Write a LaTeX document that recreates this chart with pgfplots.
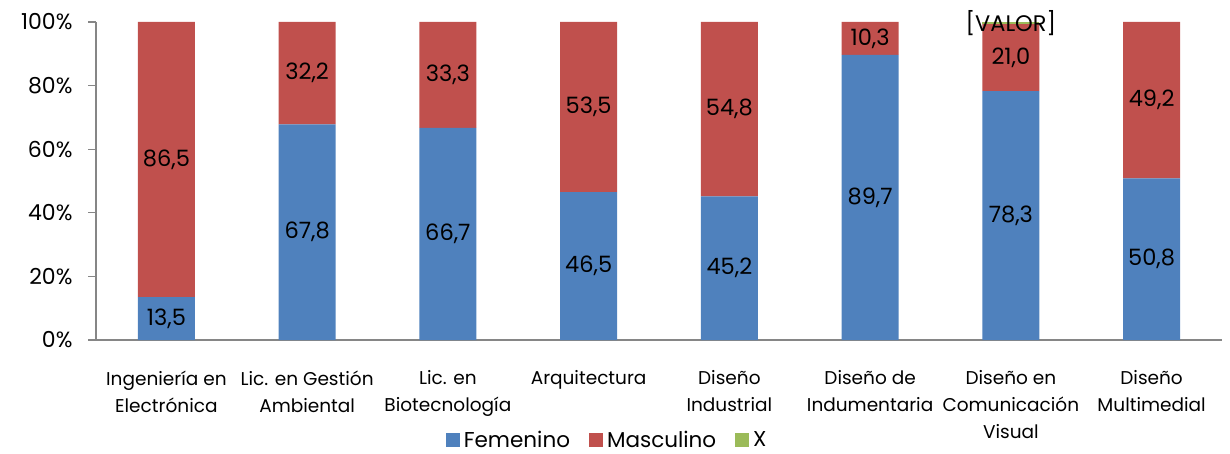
\documentclass[border=0pt]{standalone}
\usepackage{pgfplots}
\pgfplotsset{compat=1.18}
\usepackage{pgfplotstable}
\usepackage{fontspec}
\setmainfont{Poppins}
\definecolor{fem}{HTML}{4F81BD}
\definecolor{masc}{HTML}{C0504D}
\definecolor{xgreen}{HTML}{9BBB59}
\definecolor{axisgray}{HTML}{868686}

% x = category index, y = percent, lab = data label
\pgfplotstableread{
x y lab
0 13.5 13,5
1 67.8 67,8
2 66.7 66,7
3 46.5 46,5
4 45.2 45,2
5 89.7 89,7
6 78.3 78,3
7 50.8 50,8
}\femenino
\pgfplotstableread{
x y lab
0 86.5 86,5
1 32.2 32,2
2 33.3 33,3
3 53.5 53,5
4 54.8 54,8
5 10.3 10,3
6 21.0 21,0
7 49.2 49,2
}\masculino
\pgfplotstableread{
x y lab
0 0 {}
1 0 {}
2 0 {}
3 0 {}
4 0 {}
5 0 {}
6 0.7 [VALOR]
7 0 {}
}\xseries

\begin{document}
\begin{tikzpicture}
\useasboundingbox (0,0) rectangle (1230pt,453pt);
\begin{axis}[
  at={(96pt,113pt)},
  scale only axis,
  width=1126pt, height=318pt,
  ybar stacked, bar width=57pt,
  xmin=-0.5, xmax=7.5, ymin=0, ymax=100,
  axis lines*=left,
  axis line style={axisgray, line width=1.2pt},
  tick style={axisgray, line width=1.2pt},
  tick align=outside,
  major tick length=8pt,
  xtick={0,...,7},
  xticklabels={Ingeniería en\\Electrónica, Lic. en Gestión\\Ambiental, Lic. en\\Biotecnología, Arquitectura, Diseño\\Industrial, Diseño de\\Indumentaria, Diseño en\\Comunicación\\Visual, Diseño\\Multimedial},
  x tick style={draw=none},
  extra x ticks={-0.5,0.5,...,7.5},
  extra x tick labels={},
  extra x tick style={tick style={axisgray, line width=1.2pt}},
  xticklabel style={align=center, font=\fontsize{18.5}{27}\selectfont, yshift=-19pt},
  ytick={0,20,40,60,80,100},
  yticklabels={0\%,20\%,40\%,60\%,80\%,100\%},
  yticklabel style={font=\fontsize{22}{26}\selectfont, xshift=-12pt},
  /pgf/number format/assume math mode=true,
  point meta=explicit symbolic,
  nodes near coords,
  every node near coord/.append style={anchor=center, font=\fontsize{22.5}{26}\selectfont, text=black},
  legend style={draw=none, at={(0.454,-0.314)}, anchor=center, legend columns=-1,
    font=\fontsize{21.5}{26}\selectfont,
    /tikz/every odd column/.append style={column sep=2pt},
    /tikz/every even column/.append style={column sep=17pt}},
  legend image code/.code={\fill[#1] (0pt,-7pt) rectangle (14pt,7pt);},
  clip=false,
]
\addplot[fill=fem, draw=none] table[x=x, y=y, meta=lab] {\femenino};
\addlegendentry{Femenino}
\addplot[fill=masc, draw=none] table[x=x, y=y, meta=lab] {\masculino};
\addlegendentry{Masculino}
\addplot[fill=xgreen, draw=none] table[x=x, y=y, meta=lab] {\xseries};
\addlegendentry{X}
\end{axis}
\end{tikzpicture}
\end{document}
